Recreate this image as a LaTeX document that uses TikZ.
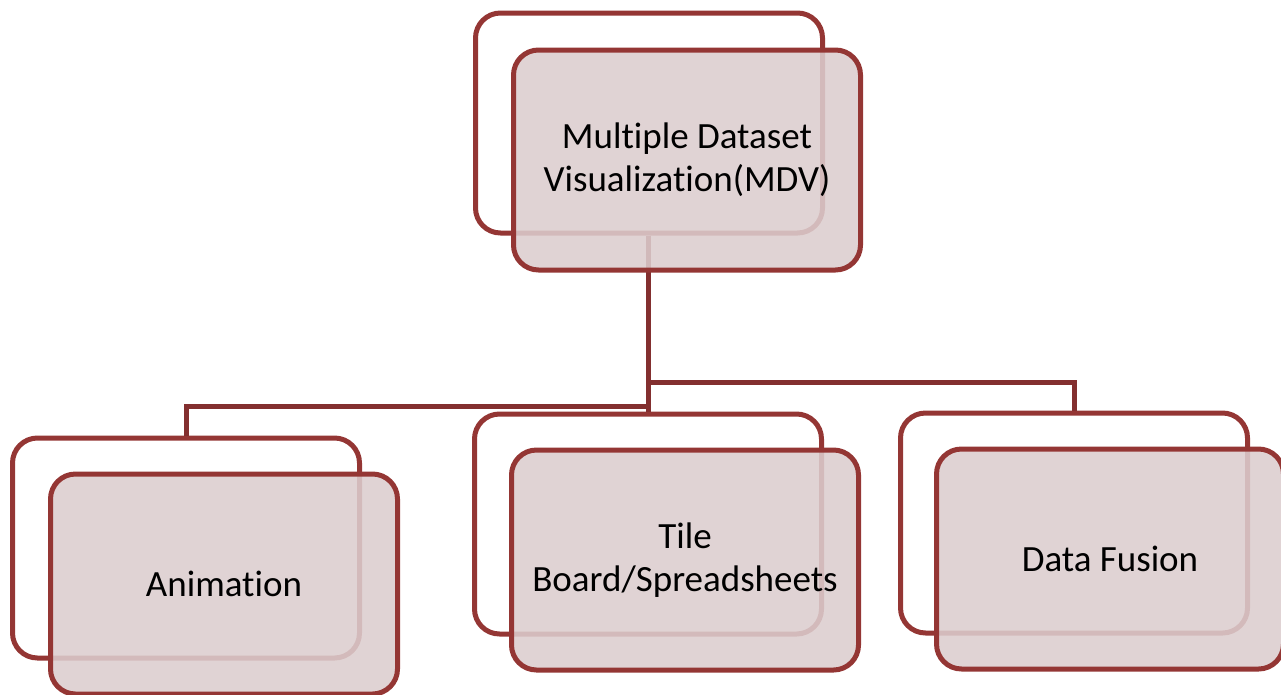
\documentclass[tikz,border=0pt]{standalone}
\usepackage{fontspec}
\setmainfont{Carlito}[Ligatures={NoCommon}]
\definecolor{boxline}{HTML}{943634}
\definecolor{linkline}{HTML}{832F2F}
\definecolor{boxfill}{HTML}{DCCDCE}
\begin{document}
\begin{tikzpicture}[x=1pt,y=-1pt,
  backbox/.style={draw=boxline, line width=5pt, rounded corners=25pt,
    minimum width=347pt, minimum height=220pt, inner sep=0pt},
  frontbox/.style={backbox, fill=boxfill, fill opacity=0.88, text opacity=1,
    align=center, font=\fontsize{37}{43}\selectfont},
  link/.style={draw=linkline, line width=5pt}]
\useasboundingbox (0,0) rectangle (1281,694);

% shadow boxes behind each label
\node[backbox] (mdvback)  at (649,123) {};
\node[backbox] (animback) at (186,548) {};
\node[backbox] (tileback) at (648,524) {};
\node[backbox] (fuseback) at (1074,523) {};

% junction points of the tree
\coordinate (jright) at (648,382);
\coordinate (jleft)  at (648,406);

% connectors
\draw[link] (mdvback.south -| jleft) -- (jleft) -- (tileback.north);
\draw[link] (jright) -| (fuseback.north);
\draw[link] (jleft) -| (animback.north);

% labelled boxes in front
\node[frontbox] (mdv)  at (687,160) {Multiple Dataset\\Visualization(MDV)};
\node[frontbox] (anim) at (224,584) {Animation};
\node[frontbox] (tile) at (685,560) {Tile\\Board/Spreadsheets};
\node[frontbox] (fuse) at (1110,559) {Data Fusion};
\end{tikzpicture}
\end{document}
